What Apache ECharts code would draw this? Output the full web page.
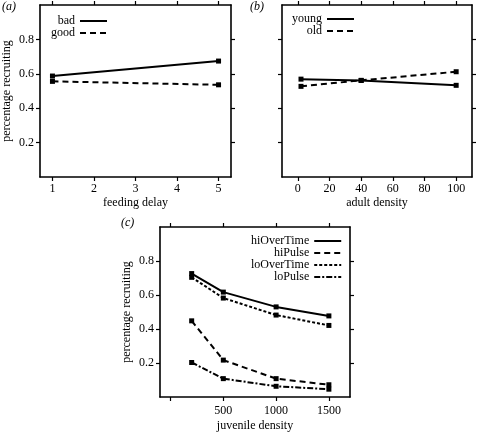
<!DOCTYPE html>
<html><head><meta charset="utf-8">
<script src="https://cdn.jsdelivr.net/npm/echarts@6/dist/echarts.min.js"></script>
<style>html,body{margin:0;padding:0;background:#fff}#c{width:477px;height:433px}</style>
</head><body><div id="c"></div>
<script>
// Panel (a)
const delayX = [1, 5];
const badVals = [0.587, 0.674];
const goodVals = [0.556, 0.536];
// Panel (b)
const adultX = [2, 40, 100];
const youngVals = [0.569, 0.561, 0.533];
const oldVals = [0.527, 0.562, 0.612];
// Panel (c)
const juvX = [200, 500, 1000, 1500];
const hiOverTime = [0.726, 0.617, 0.530, 0.477];
const hiPulse = [0.448, 0.217, 0.108, 0.072];
const loOverTime = [0.704, 0.582, 0.482, 0.421];
const loPulse = [0.203, 0.108, 0.063, 0.046];
// Ticks
const yTicks = [0.2, 0.4, 0.6, 0.8];
const xTicksA = [1, 2, 3, 4, 5];
const xTicksB = [0, 20, 40, 60, 80, 100];
const xTicksC = [0, 500, 1000, 1500];
const xLabelsC = [500, 1000, 1500];

const FF = '"Liberation Serif", "DejaVu Serif", serif';
const txt = {fontFamily: FF, fontSize: 12, color: '#000'};

function xAx(gi, min, max, ticks, labels, name, pos, margin, nameGap) {
  const bottom = pos === 'bottom';
  return {
    type: 'value', gridIndex: gi, min, max, position: pos,
    axisLine: {show: true, onZero: false, lineStyle: {color: '#000', width: 1.6}},
    axisTick: {show: true, inside: false, length: 4, customValues: ticks, lineStyle: {color: '#000', width: 1.2}},
    axisLabel: bottom ? Object.assign({show: true, margin: margin, customValues: labels, formatter: v => String(v)}, txt) : {show: false},
    splitLine: {show: false},
    name: bottom ? name : '', nameLocation: 'middle', nameGap: nameGap || 20, nameTextStyle: txt
  };
}
function yAx(gi, pos, showLabel, name) {
  const left = pos === 'left';
  return {
    type: 'value', gridIndex: gi, min: 0, max: 1, position: pos,
    axisLine: {show: true, onZero: false, lineStyle: {color: '#000', width: 1.6}},
    axisTick: {show: true, inside: false, length: 4, customValues: yTicks, lineStyle: {color: '#000', width: 1.2}},
    axisLabel: (left && showLabel) ? Object.assign({show: true, margin: 6, customValues: yTicks, formatter: v => v.toFixed(1)}, txt) : {show: false},
    splitLine: {show: false},
    name: (left && name) ? name : '', nameLocation: 'middle', nameGap: 27, nameTextStyle: txt
  };
}
function ser(name, xs, ys, xi, yi, type) {
  return {
    name, type: 'line', xAxisIndex: xi, yAxisIndex: yi,
    data: xs.map((x, i) => [x, ys[i]]),
    symbol: 'rect', symbolSize: 5, showSymbol: true,
    itemStyle: {color: '#000'},
    lineStyle: {color: '#000', width: 2, type: type},
    animation: false
  };
}
const dashed = [6, 4];
const dotted = [3, 2];
const dashDot = [6, 2, 2, 2];

function lg(data, left, top) {
  return {
    data, orient: 'vertical', left, top, align: 'right', padding: 0,
    itemWidth: 27, itemHeight: 12, itemGap: 0,
    itemStyle: {opacity: 0},
    textStyle: Object.assign({lineHeight: 12, padding: [0, 0, 0, 0]}, txt),
    selectedMode: false
  };
}

const chart = echarts.init(document.getElementById('c'), null, {renderer: 'canvas'});
chart.setOption({
  animation: false,
  backgroundColor: '#fff',
  title: [
    {text: '(a)', left: 2, top: 1, padding: 0, textStyle: Object.assign({}, txt, {fontStyle: 'italic', fontWeight: 'normal'})},
    {text: '(b)', left: 250, top: 1, padding: 0, textStyle: Object.assign({}, txt, {fontStyle: 'italic', fontWeight: 'normal'})},
    {text: '(c)', left: 121, top: 217, padding: 0, textStyle: Object.assign({}, txt, {fontStyle: 'italic', fontWeight: 'normal'})}
  ],
  grid: [
    {left: 39, top: 5, width: 192, height: 172},
    {left: 282, top: 5, width: 190, height: 172},
    {left: 160, top: 227, width: 190, height: 171}
  ],
  xAxis: [
    xAx(0, 0.7, 5.3, xTicksA, xTicksA, 'feeding delay', 'bottom', 6, 20),
    xAx(0, 0.7, 5.3, xTicksA, xTicksA, '', 'top'),
    xAx(1, -10, 110, xTicksB, xTicksB, 'adult density', 'bottom', 6, 20),
    xAx(1, -10, 110, xTicksB, xTicksB, '', 'top'),
    xAx(2, -100, 1700, xTicksC, xLabelsC, 'juvenile density', 'bottom', 8, 23),
    xAx(2, -100, 1700, xTicksC, xLabelsC, '', 'top')
  ],
  yAxis: [
    yAx(0, 'left', true, 'percentage recruiting'),
    yAx(0, 'right', false, ''),
    yAx(1, 'left', false, ''),
    yAx(1, 'right', false, ''),
    yAx(2, 'left', true, 'percentage recruiting'),
    yAx(2, 'right', false, '')
  ],
  legend: [
    lg(['bad', 'good'], 51, 15),
    lg(['young', 'old'], 292, 13),
    lg(['hiOverTime', 'hiPulse', 'loOverTime', 'loPulse'], 251, 235)
  ],
  series: [
    ser('bad', delayX, badVals, 0, 0, 'solid'),
    ser('good', delayX, goodVals, 0, 0, dashed),
    ser('young', adultX, youngVals, 2, 2, 'solid'),
    ser('old', adultX, oldVals, 2, 2, dashed),
    ser('hiOverTime', juvX, hiOverTime, 4, 4, 'solid'),
    ser('hiPulse', juvX, hiPulse, 4, 4, dashed),
    ser('loOverTime', juvX, loOverTime, 4, 4, dotted),
    ser('loPulse', juvX, loPulse, 4, 4, dashDot)
  ]
});
</script>
</body></html>
